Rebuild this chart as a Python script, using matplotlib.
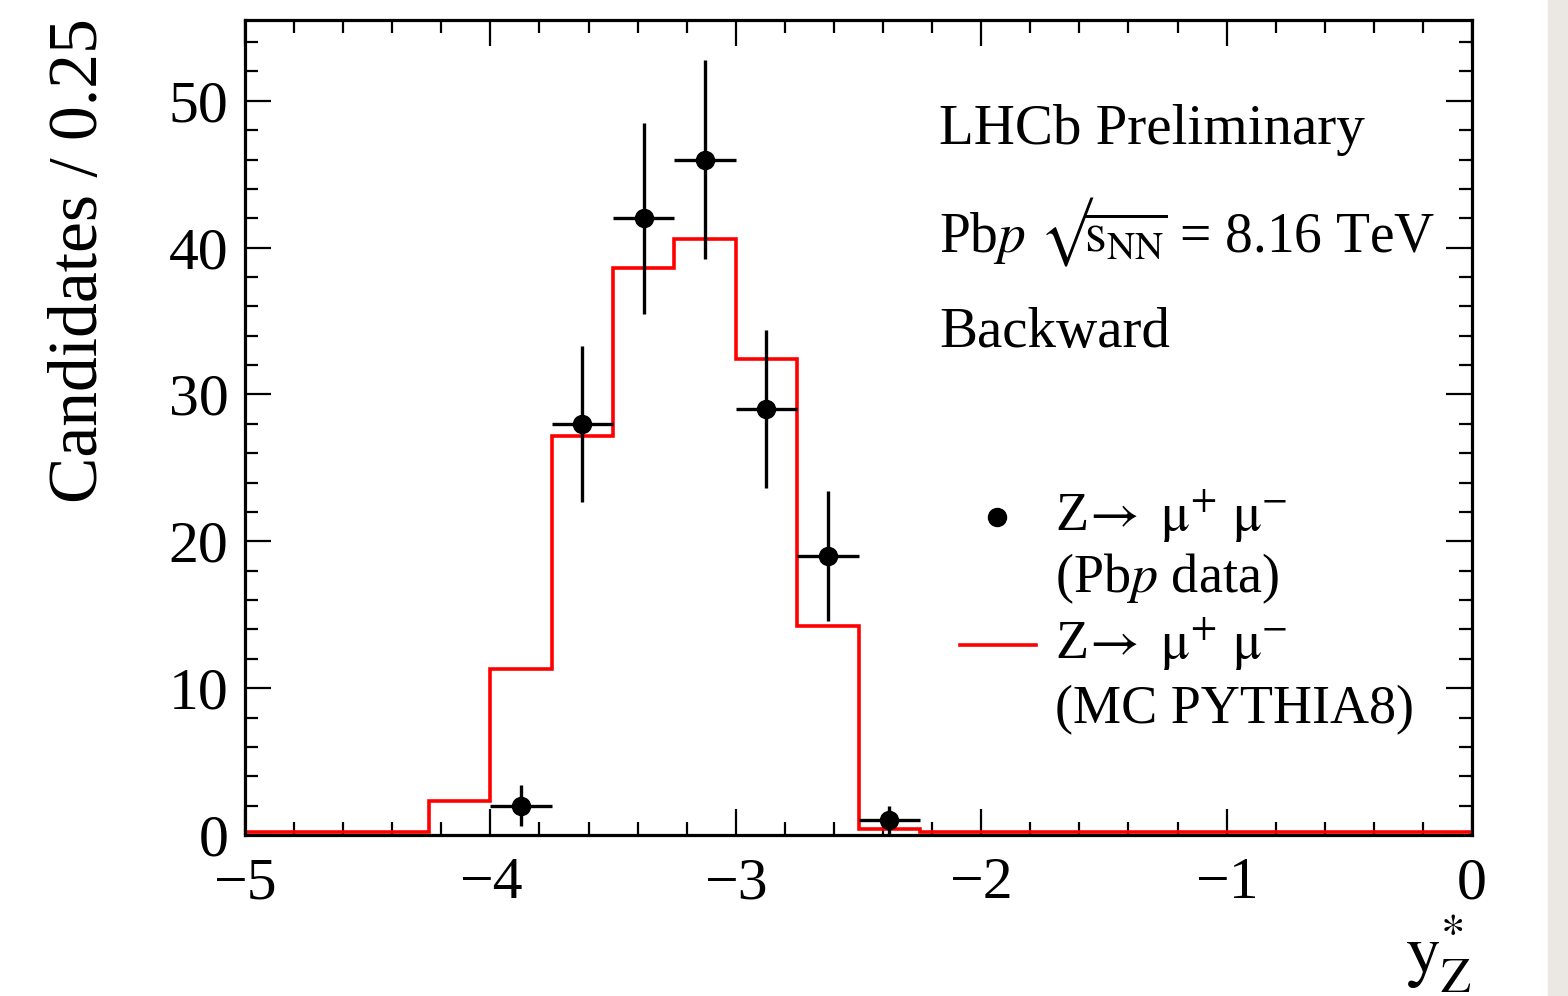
import numpy as np
import matplotlib
matplotlib.use('Agg')
import matplotlib.pyplot as plt
from matplotlib.patches import Rectangle
from matplotlib.lines import Line2D

plt.rcParams['font.family'] = ['Liberation Serif', 'DejaVu Serif']
plt.rcParams['mathtext.fontset'] = 'stix'

# binning: 20 bins of 0.25 in y*_Z
bin_edges = np.linspace(-5.0, 0.0, 21)

# MC PYTHIA8 expectation per bin
mc_counts = [0.2, 0.2, 0.2, 2.3, 11.3, 27.2, 38.6, 40.6, 32.4, 14.2,
             0.4, 0.2, 0.2, 0.2, 0.2, 0.2, 0.2, 0.2, 0.2, 0.2]

# Pbp data points
data_x = [-3.875, -3.625, -3.375, -3.125, -2.875, -2.625, -2.375]
data_y = [2, 28, 42, 46, 29, 19, 1]
data_err = [1.4, 5.3, 6.5, 6.8, 5.4, 4.4, 1.0]
data_xerr = 0.125

fig = plt.figure(figsize=(15.68, 9.96), dpi=100)
fig.patches.append(Rectangle((1548 / 1568, 0), 1 - 1548 / 1568, 1, transform=fig.transFigure,
                             color='#ebe8e4', zorder=0))
ax = fig.add_axes([245 / 1568, 1 - 835 / 996, 1227 / 1568, 815 / 996])

# MC histogram as a step line
ax.stairs(mc_counts, bin_edges, color='red', lw=2.6, zorder=2)

# data with error bars
ax.errorbar(data_x, data_y, yerr=data_err, xerr=data_xerr, fmt='o', color='black',
            ms=13, elinewidth=2.4, capsize=0, zorder=3)

ax.set_xlim(-5, 0)
ax.set_ylim(0, 55.5)
ax.xaxis.set_major_locator(plt.MultipleLocator(1))
ax.xaxis.set_minor_locator(plt.MultipleLocator(0.2))
ax.yaxis.set_major_locator(plt.MultipleLocator(10))
ax.yaxis.set_minor_locator(plt.MultipleLocator(2))
ax.tick_params(which='both', direction='in', top=True, right=True, width=1.6)
ax.tick_params(which='major', length=19, labelsize=43)
ax.tick_params(which='minor', length=9.5)
ax.tick_params(axis='x', which='major', pad=16)
ax.tick_params(axis='y', which='major', pad=12)
for sp in ax.spines.values():
  sp.set_linewidth(2.3)

# axis titles, ROOT style
fig.text(80 / 1568, 1 - 18 / 996, 'Candidates / 0.25', rotation=90, ha='center', va='top', fontsize=50)
fig.text(1472 / 1568, 2 / 996, r'$\mathrm{y}_{\mathrm{Z}}^{*}$', ha='right', va='bottom', fontsize=50)

# labels
ax.text(0.566, 0.865, 'LHCb Preliminary', transform=ax.transAxes, fontsize=41, va='center')
ax.text(0.566, 0.740, r'Pb$p$ $√\!\overline{\mathrm{s}_{\mathrm{NN}}}$ = 8.16 TeV', transform=ax.transAxes,
        fontsize=40, va='center')
ax.text(0.566, 0.616, 'Backward', transform=ax.transAxes, fontsize=41, va='center')

# legend drawn by hand so the symbol sits on the first line
ax.add_line(Line2D([0.613], [0.390], marker='o', color='black', ms=13, transform=ax.transAxes))
ax.text(0.660, 0.390, r'Z$\!\rightarrow$ $\mathrm{\mu}^{+}$ $\mathrm{\mu}^{-}$', transform=ax.transAxes,
        fontsize=39, va='center')
ax.text(0.660, 0.315, r'(Pb$p$ data)', transform=ax.transAxes, fontsize=39, va='center')
ax.add_line(Line2D([0.583, 0.645], [0.233, 0.233], color='red', lw=2.6, transform=ax.transAxes))
ax.text(0.660, 0.233, r'Z$\!\rightarrow$ $\mathrm{\mu}^{+}$ $\mathrm{\mu}^{-}$', transform=ax.transAxes,
        fontsize=39, va='center')
ax.text(0.660, 0.153, '(MC PYTHIA8)', transform=ax.transAxes, fontsize=39, va='center')

fig.savefig('out.png', dpi=100)
